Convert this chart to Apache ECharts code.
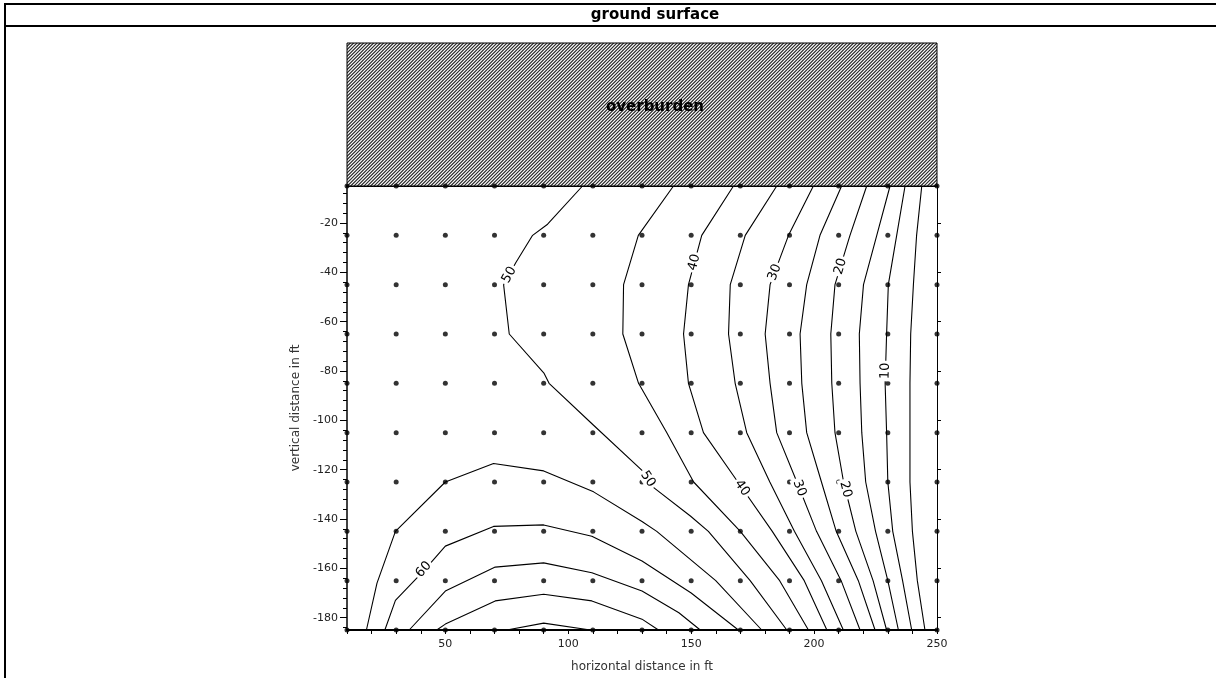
<!DOCTYPE html>
<html>
<head>
<meta charset="utf-8">
<script src="https://cdn.jsdelivr.net/npm/echarts@6/dist/echarts.min.js"></script>
<style>
  html, body { margin: 0; padding: 0; background: #fff; }
  #chart { width: 1216px; height: 678px; }
</style>
</head>
<body>
<div id="chart"></div>
<script>
// Sampling grid (ft): horizontal stations and depths of the measurement points
const gridX = [10, 30, 50, 70, 90, 110, 130, 150, 170, 190, 210, 230, 250];
const gridY = [-5, -25, -45, -65, -85, -105, -125, -145, -165, -185];

// Tick labels
const xLabelValues = [50, 100, 150, 200, 250];
const yLabelValues = [-180, -160, -140, -120, -100, -80, -60, -40, -20];
const yMinorValues = [-184, -176, -172, -168, -164, -156, -152, -148, -144, -136, -132, -128, -124,
  -116, -112, -108, -104, -96, -92, -88, -84, -76, -72, -68, -64, -56, -52, -48, -44,
  -36, -32, -28, -24, -16, -12, -8];

// Contour lines, one polyline per level: [horizontal ft, vertical ft]
const contour5 = [[243.8, -5], [241.7, -25], [240.4, -45], [239.3, -65], [239, -85], [239, -105], [239, -125], [240, -145], [242, -165], [245.1, -185]];
const contour10 = [[237, -5], [233.6, -25], [230.2, -45], [229.5, -65], [228.9, -85], [229.5, -105], [230, -125], [232, -145], [236, -165], [239.7, -185]];
const contour15 = [[230.9, -5], [225.5, -25], [220.1, -45], [218.4, -65], [218.7, -85], [219.4, -105], [221, -125], [225, -145], [230, -165], [234.3, -185]];
const contour20 = [[221.4, -5], [214.6, -25], [208.5, -45], [206.8, -65], [207.2, -85], [208.5, -105], [212, -125], [217, -145], [224, -165], [229.5, -185]];
const contour25 = [[211.2, -5], [202.4, -25], [197, -45], [194.3, -65], [195, -85], [197, -105], [203, -125], [209, -145], [218, -165], [224.8, -185]];
const contour30 = [[199.7, -5], [189.6, -25], [182.1, -45], [180.1, -65], [182.1, -85], [184.8, -105], [193, -125], [201, -145], [211, -165], [218.7, -185]];
const contour35 = [[184.8, -5], [172, -25], [165.9, -45], [165.2, -65], [167.9, -85], [172.6, -105], [182, -125], [192, -145], [203, -165], [211.9, -185]];
const contour40 = [[167.2, -5], [154.3, -25], [148.9, -45], [146.9, -65], [148.9, -85], [155, -105], [169, -125], [183, -145], [196, -165], [205.2, -185]];
const contour45 = [[142.8, -5], [128.5, -25], [122.5, -45], [122.2, -65], [128.6, -85], [140.1, -105], [151, -125], [170, -145], [186, -165], [197.7, -185]];
const contour50 = [[105.8, -5], [91.6, -20.5], [85.5, -25], [78.7, -36], [73.7, -45], [76, -65], [90.2, -81], [92.2, -85], [110.3, -102], [130, -120.3], [134.9, -127.4], [149.8, -138.9], [157, -145], [174, -165], [188.9, -185]];
const contour55 = [[17.9, -185], [22.2, -166], [29.7, -145], [50, -125], [69.6, -117.5], [90, -120.5], [110.3, -129], [130, -141], [136, -145], [160, -165], [178.7, -185]];
const contour60 = [[25.4, -185], [29.7, -173], [41.2, -161], [50, -151], [69.6, -143], [90, -142.4], [109.6, -147], [130, -157], [150, -170], [169.2, -185]];
const contour65 = [[35.3, -185], [50, -169.2], [70.3, -159.5], [90, -157.8], [109.6, -161.8], [130, -169.2], [145, -178], [153.7, -185]];
const contour70 = [[46.5, -185], [50, -182.6], [70.3, -173.2], [90, -170.5], [109.6, -173.2], [130, -180.6], [136.7, -185]];
const contour75 = [[75, -185], [90, -182.2], [109, -185]];

const contourLevels = [5, 10, 15, 20, 25, 30, 35, 40, 45, 50, 55, 60, 65, 70, 75];
const contourPaths = [contour5, contour10, contour15, contour20, contour25, contour30, contour35,
  contour40, contour45, contour50, contour55, contour60, contour65, contour70, contour75];

// Inline contour labels: level and the point on its line where it sits
const labelLevels = [50, 40, 30, 20, 10, 60, 50, 40, 30, 20];
const labelPoints = [[76, -41], [151.3, -36], [184, -40], [210.8, -37.6], [229, -80],
  [41.2, -160.5], [132.4, -123.8], [170.7, -127.5], [194, -127.5], [212.8, -128]];

// Overburden band above the sampled section
const overburdenSpan = [10, 250];

const FONT = 'DejaVu Sans';

// Fine 45-degree hatch: three strokes per 10 px tile so the tile repeats seamlessly
function makeHatch() {
  const n = 10;
  const c = document.createElement('canvas');
  c.width = n; c.height = n;
  const g = c.getContext('2d');
  g.fillStyle = '#ffffff';
  g.fillRect(0, 0, n, n);
  g.strokeStyle = '#2b2b2b';
  g.lineWidth = 1.2;
  g.beginPath();
  for (let k = 0; k <= 6; k++) {
    const s = k * n / 3;
    g.moveTo(s + 2, -2);
    g.lineTo(-2, s + 2);
  }
  g.stroke();
  return c;
}
const hatch = makeHatch();

const chart = echarts.init(document.getElementById('chart'), null, { renderer: 'canvas' });

const dots = [];
gridY.forEach(y => gridX.forEach(x => dots.push([x, y])));

const contourSeries = contourPaths.map((pts, i) => ({
  type: 'line',
  name: 'c' + contourLevels[i],
  xAxisIndex: 0,
  yAxisIndex: 0,
  data: pts,
  symbol: 'none',
  showSymbol: false,
  silent: true,
  lineStyle: { color: '#000', width: 1.1 },
  z: 2
}));

function pathForLevel(level) {
  return contourPaths[contourLevels.indexOf(level)];
}

const option = {
  animation: false,
  backgroundColor: '#fff',
  grid: [
    { left: 347, top: 186, width: 590, height: 447, containLabel: false },
    { left: 347, top: 43, width: 590, height: 143, containLabel: false }
  ],
  xAxis: [
    {
      gridIndex: 0, type: 'value', min: 10, max: 250, interval: 10, position: 'bottom',
      axisLine: { show: true, onZero: false, lineStyle: { color: '#000', width: 2 } },
      axisTick: { show: true, length: 4, lineStyle: { color: '#000', width: 1 } },
      axisLabel: {
        formatter: v => (xLabelValues.indexOf(v) >= 0 ? String(v) : ''),
        color: '#222', fontFamily: FONT, fontSize: 11, margin: 9
      },
      splitLine: { show: false },
      name: 'horizontal distance in ft', nameLocation: 'middle', nameGap: 31,
      nameTextStyle: { color: '#333', fontFamily: FONT, fontSize: 12 }
    },
    { gridIndex: 1, type: 'value', min: 10, max: 250, show: false },
    {
      gridIndex: 0, type: 'value', min: 10, max: 250, position: 'top',
      axisLine: { show: true, onZero: false, lineStyle: { color: '#000', width: 2 } },
      axisTick: { show: false }, axisLabel: { show: false }, splitLine: { show: false }
    }
  ],
  yAxis: [
    {
      gridIndex: 0, type: 'value', min: -185, max: -5, position: 'left',
      axisLine: { show: true, onZero: false, lineStyle: { color: '#000', width: 1.5 } },
      axisTick: { show: true, customValues: yLabelValues, length: 7, lineStyle: { color: '#000' } },
      axisLabel: { customValues: yLabelValues, color: '#222', fontFamily: FONT, fontSize: 11, margin: 9 },
      splitLine: { show: false },
      name: 'vertical distance in ft', nameLocation: 'middle', nameRotate: 90, nameGap: 45,
      nameTextStyle: { color: '#333', fontFamily: FONT, fontSize: 12 }
    },
    {
      gridIndex: 0, type: 'value', min: -185, max: -5, position: 'left',
      axisLine: { show: false },
      axisTick: { show: true, customValues: yMinorValues, length: 4, lineStyle: { color: '#000' } },
      axisLabel: { show: false }, splitLine: { show: false }
    },
    {
      gridIndex: 0, type: 'value', min: -185, max: -5, position: 'right',
      axisLine: { show: true, onZero: false, lineStyle: { color: '#000', width: 1 } },
      axisTick: { show: true, customValues: yLabelValues, length: 4, lineStyle: { color: '#000' } },
      axisLabel: { show: false }, splitLine: { show: false }
    },
    { gridIndex: 1, type: 'value', min: 0, max: 1, show: false }
  ],
  graphic: [
    { type: 'line', shape: { x1: 5, y1: 4, x2: 1216, y2: 4 }, style: { stroke: '#000', lineWidth: 2 } },
    { type: 'line', shape: { x1: 5, y1: 26, x2: 1216, y2: 26 }, style: { stroke: '#000', lineWidth: 2 } },
    { type: 'line', shape: { x1: 5, y1: 3, x2: 5, y2: 678 }, style: { stroke: '#000', lineWidth: 2 } },
    {
      type: 'text', x: 655, y: 15,
      style: { text: 'ground surface', fill: '#000', font: 'bold 15px "DejaVu Sans"', align: 'center', verticalAlign: 'middle' }
    }
  ],
  series: [
    {
      type: 'custom',
      name: 'overburden',
      xAxisIndex: 1,
      yAxisIndex: 3,
      silent: true,
      data: [overburdenSpan],
      renderItem: function (params, api) {
        const tl = api.coord([api.value(0), 1]);
        const br = api.coord([api.value(1), 0]);
        return {
          type: 'group',
          children: [
            {
              type: 'rect',
              shape: { x: tl[0], y: tl[1], width: br[0] - tl[0], height: br[1] - tl[1] },
              style: { fill: { type: 'pattern', image: hatch, repeat: 'repeat' }, stroke: '#000', lineWidth: 1 }
            },
            {
              type: 'text',
              x: (tl[0] + br[0]) / 2 + 13,
              y: (tl[1] + br[1]) / 2 - 7,
              style: { text: 'overburden', fill: '#000', font: 'bold 15px "DejaVu Sans"', align: 'center', verticalAlign: 'middle' }
            }
          ]
        };
      }
    },
    ...contourSeries,
    {
      type: 'scatter',
      name: 'stations',
      xAxisIndex: 0,
      yAxisIndex: 0,
      data: dots,
      symbol: 'circle',
      symbolSize: 5,
      clip: false,
      silent: true,
      itemStyle: { color: '#000' },
      z: 3
    },
    {
      type: 'custom',
      name: 'contour labels',
      xAxisIndex: 0,
      yAxisIndex: 0,
      silent: true,
      z: 4,
      data: labelPoints.map((p, i) => [p[0], p[1], labelLevels[i]]),
      renderItem: function (params, api) {
        const lx = api.value(0), ly = api.value(1), level = api.value(2);
        const p = api.coord([lx, ly]);
        const pix = pathForLevel(level).map(q => api.coord(q));
        let best = null, bestD = Infinity;
        for (let k = 0; k < pix.length - 1; k++) {
          const a = pix[k], b = pix[k + 1];
          const vx = b[0] - a[0], vy = b[1] - a[1];
          const len2 = vx * vx + vy * vy || 1;
          let t = ((p[0] - a[0]) * vx + (p[1] - a[1]) * vy) / len2;
          t = Math.max(0, Math.min(1, t));
          const cx = a[0] + t * vx, cy = a[1] + t * vy;
          const d = (p[0] - cx) * (p[0] - cx) + (p[1] - cy) * (p[1] - cy);
          if (d < bestD) { bestD = d; best = [vx, vy]; }
        }
        let dx = best[0], dy = best[1];
        if (dx < 0 || (Math.abs(dx) < 1e-6 && dy > 0)) { dx = -dx; dy = -dy; }
        const rot = Math.atan2(-dy, dx);
        return {
          type: 'text',
          x: p[0], y: p[1],
          rotation: rot,
          style: {
            text: String(level), fill: '#000', font: '13px "DejaVu Sans"',
            align: 'center', verticalAlign: 'middle',
            backgroundColor: '#fff', padding: [0, 2]
          }
        };
      }
    }
  ]
};

chart.setOption(option);
</script>
</body>
</html>
